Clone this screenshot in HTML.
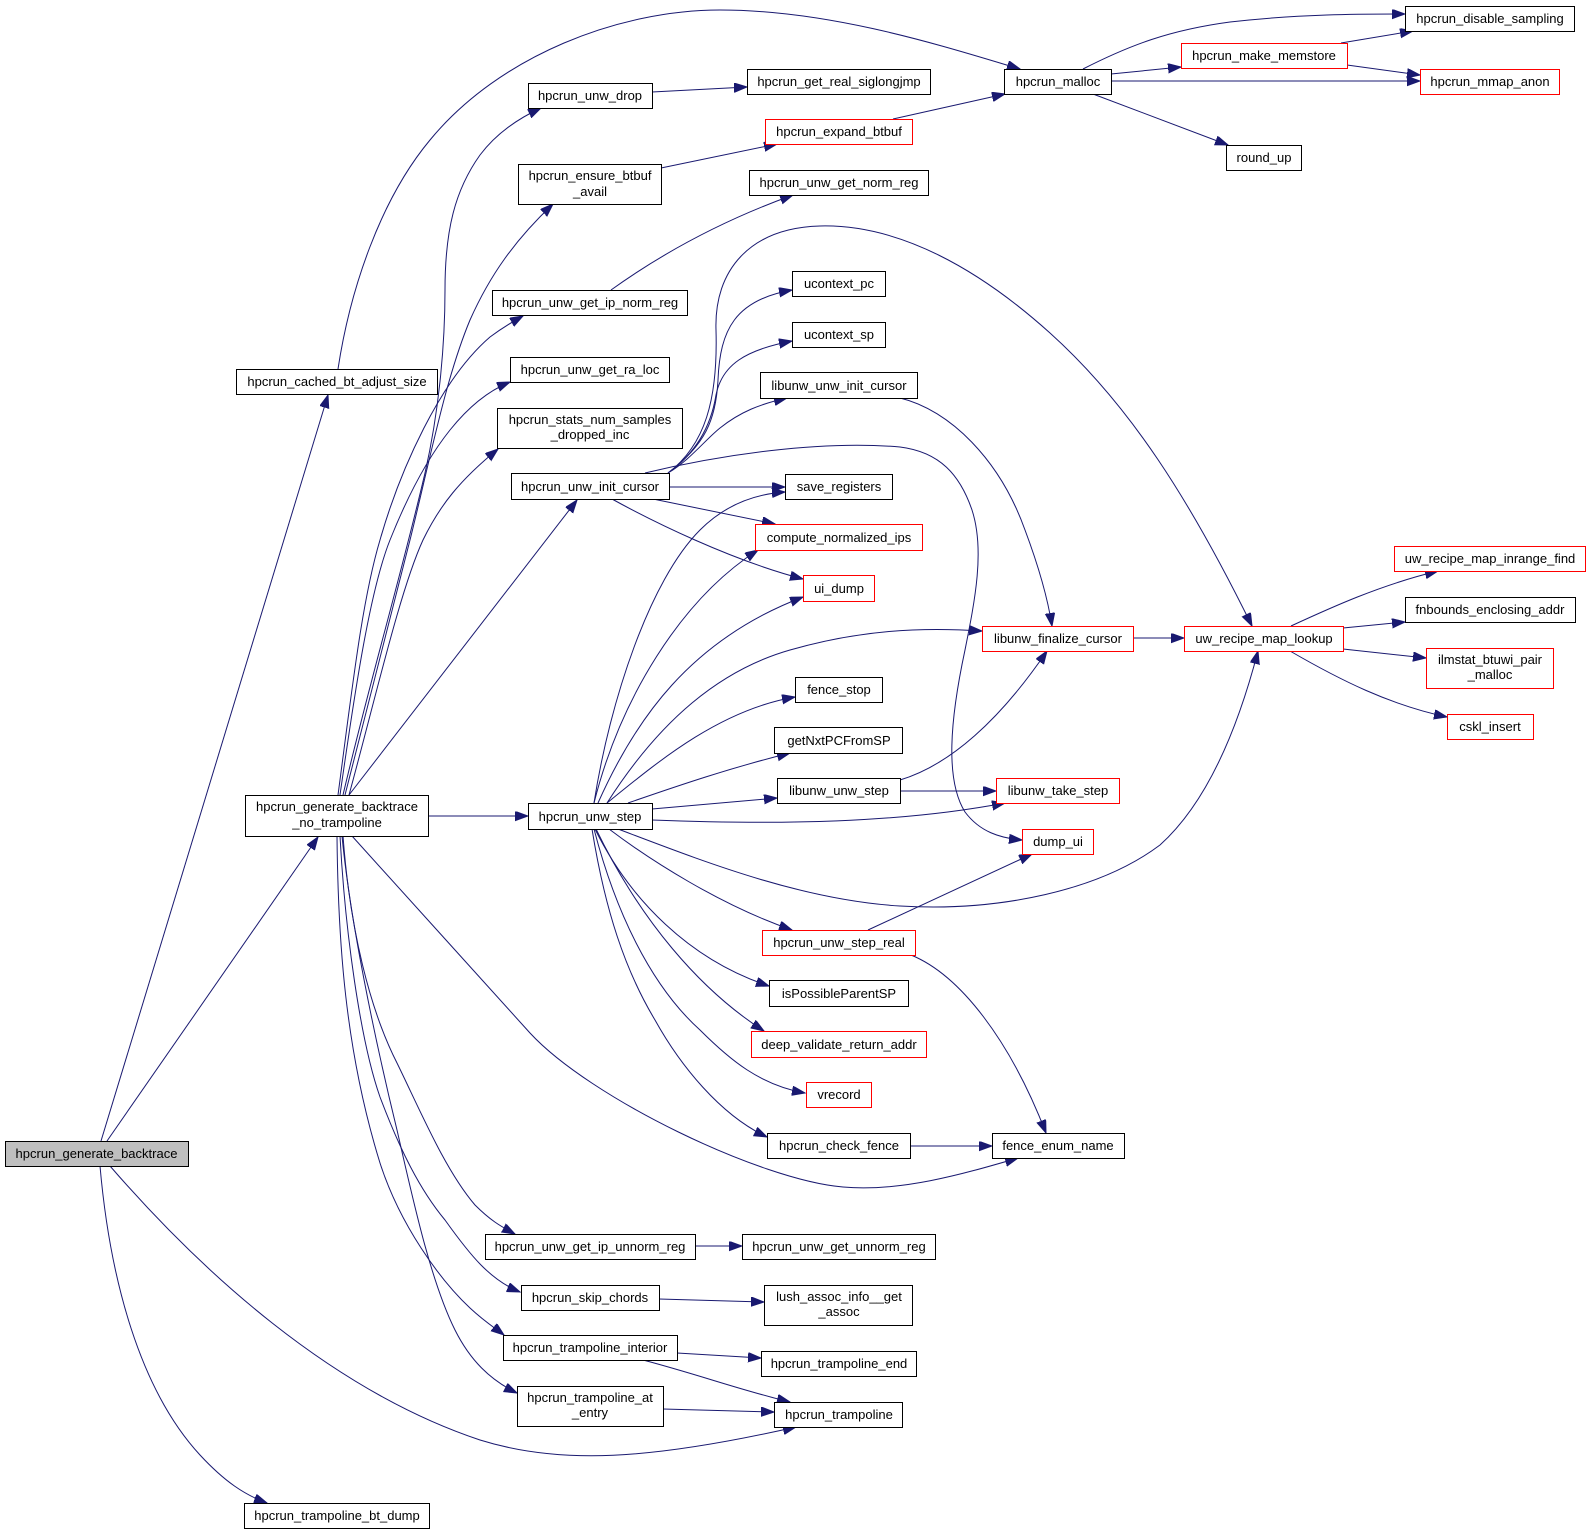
<!DOCTYPE html>
<html><head><meta charset="utf-8"><style>
html,body{margin:0;padding:0;background:#fff;}
svg{display:block;}
text{font-family:"Liberation Sans",Arial,sans-serif;font-size:13px;fill:#000;text-anchor:middle;}
.e{fill:none;stroke:#191970;stroke-width:1;marker-end:url(#a);}
.n{fill:#fff;stroke:#000;stroke-width:1;}
.r{fill:#fff;stroke:#ff0000;stroke-width:1;}
.g{fill:#bfbfbf;stroke:#000;stroke-width:1;}
</style></head><body>
<svg width="1591" height="1535" viewBox="0 0 1591 1535" xmlns="http://www.w3.org/2000/svg">
<defs><marker id="a" markerUnits="userSpaceOnUse" markerWidth="14" markerHeight="11" refX="13" refY="4.7" orient="auto"><path d="M0,0 L13,4.7 L0,9.4 z" fill="#191970" stroke="#191970" stroke-width="1"/></marker></defs>
<rect width="1591" height="1535" fill="#fff"/>

<!-- edges -->
<path class="e" d="M101,1141 L328,395"/>
<path class="e" d="M107,1141 L318,837"/>
<path class="e" d="M100,1166 C110,1280 140,1390 200,1455 C225,1482 245,1495 267,1503"/>
<path class="e" d="M110,1166 C200,1270 330,1390 480,1440 C560,1465 650,1460 796,1427"/>
<path class="e" d="M338,369 C350,290 380,200 430,140 C500,55 620,10 720,10 C830,10 940,45 1020,69"/>

<path class="e" d="M343,795 C370,680 400,580 425,473 C440,407 445,340 445,290 C445,230 455,190 480,155 C495,135 515,120 541,108"/>
<path class="e" d="M345,795 C375,680 395,600 410,540 C430,460 445,380 470,320 C490,275 515,240 553,204"/>
<path class="e" d="M338,795 C352,690 362,600 380,540 C400,470 440,380 490,337 C502,328 512,322 523,316"/>
<path class="e" d="M340,795 C355,690 370,590 390,540 C410,490 430,455 450,430 C470,405 490,390 510,382"/>
<path class="e" d="M349,795 C375,700 400,590 423,540 C440,505 460,480 498,449"/>
<path class="e" d="M349,795 L577,500"/>
<path class="e" d="M428,816 L528,816"/>

<path class="e" d="M343,836 C350,930 370,1010 397,1063 C420,1110 445,1170 475,1205 C490,1220 500,1226 515,1234"/>
<path class="e" d="M340,836 C345,930 360,1040 380,1097 C400,1150 420,1190 445,1220 C470,1255 490,1280 520,1292"/>
<path class="e" d="M337,836 C338,940 345,1050 380,1163 C400,1225 440,1280 470,1308 C485,1322 495,1328 504,1335"/>
<path class="e" d="M342,836 C350,920 375,1040 397,1130 C412,1195 430,1280 455,1330 C470,1360 490,1380 517,1393"/>
<path class="e" d="M352,836 C411,901 471,968 530,1033 C590,1098 760,1180 843,1187 C900,1192 960,1175 1018,1158"/>

<path class="e" d="M668,473 C690,460 705,440 720,428 C740,412 760,404 787,398"/>
<path class="e" d="M668,473 C700,450 712,420 716,395 C722,365 745,350 792,341"/>
<path class="e" d="M668,473 C705,445 716,420 718,380 C720,330 735,300 792,290"/>
<path class="e" d="M668,473 C705,445 718,400 716,330 C714,270 750,228 820,226 C900,224 980,270 1050,333 C1130,405 1190,500 1252,626"/>
<path class="e" d="M645,473 C720,455 820,440 900,447 C940,452 960,475 972,510 C985,550 975,600 965,650 C950,720 945,780 965,812 C980,832 1000,838 1022,840"/>
<path class="e" d="M669,487 L785,487"/>
<path class="e" d="M653,499 L775,524"/>
<path class="e" d="M612,499 C650,520 730,560 803,579"/>

<path class="e" d="M594,803 C610,700 650,580 700,530 C725,505 755,494 785,492"/>
<path class="e" d="M594,803 C620,700 680,600 758,550"/>
<path class="e" d="M598,803 C635,720 690,640 803,597"/>
<path class="e" d="M607,803 C660,720 720,670 790,650 C860,630 920,627 982,631"/>
<path class="e" d="M607,803 C660,760 720,710 795,697"/>
<path class="e" d="M628,803 C680,785 730,768 790,753"/>
<path class="e" d="M652,809 L777,798"/>
<path class="e" d="M652,820 C780,825 900,823 1005,803"/>
<path class="e" d="M618,829 C700,860 800,900 900,906 C1000,912 1100,890 1160,845 C1210,800 1240,720 1258,651"/>
<path class="e" d="M609,829 C650,860 720,905 792,930"/>
<path class="e" d="M595,829 C630,900 690,960 769,986"/>
<path class="e" d="M596,829 C640,920 700,990 764,1031"/>
<path class="e" d="M594,829 C615,910 650,985 700,1030 C730,1060 760,1085 805,1093"/>
<path class="e" d="M592,829 C605,910 625,970 655,1020 C680,1065 720,1115 767,1137"/>

<path class="e" d="M868,930 L1032,854"/>
<path class="e" d="M911,955 C960,975 1010,1040 1046,1133"/>
<path class="e" d="M910,1146 L992,1146"/>
<path class="e" d="M900,791 L996,791"/>
<path class="e" d="M900,780 C950,765 1000,720 1047,651"/>
<path class="e" d="M900,398 C950,410 1000,460 1025,530 C1040,570 1048,600 1052,626"/>
<path class="e" d="M1133,638 L1184,638"/>
<path class="e" d="M1291,626 C1330,608 1380,585 1438,571"/>
<path class="e" d="M1343,628 L1405,622"/>
<path class="e" d="M1343,649 L1426,658"/>
<path class="e" d="M1290,651 C1340,680 1390,705 1447,717"/>

<path class="e" d="M1083,69 C1130,45 1170,30 1230,22 C1300,14 1360,14 1405,14"/>
<path class="e" d="M1111,74 L1181,67"/>
<path class="e" d="M1111,81 L1420,81"/>
<path class="e" d="M1093,94 L1228,145"/>
<path class="e" d="M1341,43 L1413,31"/>
<path class="e" d="M1347,65 L1420,75"/>
<path class="e" d="M893,119 L1005,94"/>
<path class="e" d="M661,168 L777,144"/>
<path class="e" d="M652,92 L747,87"/>
<path class="e" d="M611,290 C650,262 710,225 793,195"/>
<path class="e" d="M695,1246 L742,1246"/>
<path class="e" d="M659,1299 L764,1302"/>
<path class="e" d="M677,1353 L761,1358"/>
<path class="e" d="M643,1360 C700,1375 740,1390 790,1402"/>
<path class="e" d="M663,1409 L774,1412"/>

<!-- nodes -->
<rect class="g" x="5.5" y="1141.5" width="183" height="25"/><text x="96.5" y="1158">hpcrun_generate_backtrace</text>
<rect class="n" x="236.5" y="369.5" width="201" height="25"/><text x="337" y="386">hpcrun_cached_bt_adjust_size</text>
<rect class="n" x="245.5" y="795.5" width="183" height="41"/><text x="337" y="811">hpcrun_generate_backtrace</text><text x="337" y="827">_no_trampoline</text>
<rect class="n" x="244.5" y="1503.5" width="185" height="25"/><text x="337" y="1520">hpcrun_trampoline_bt_dump</text>

<rect class="n" x="1004.5" y="69.5" width="107" height="25"/><text x="1058" y="86">hpcrun_malloc</text>
<rect class="n" x="1405.5" y="6.5" width="169" height="25"/><text x="1490" y="23">hpcrun_disable_sampling</text>
<rect class="r" x="1181.5" y="43.5" width="166" height="25"/><text x="1264" y="60">hpcrun_make_memstore</text>
<rect class="r" x="1420.5" y="69.5" width="139" height="25"/><text x="1490" y="86">hpcrun_mmap_anon</text>
<rect class="n" x="1226.5" y="145.5" width="75" height="25"/><text x="1264" y="162">round_up</text>

<rect class="n" x="528.5" y="83.5" width="124" height="25"/><text x="590" y="100">hpcrun_unw_drop</text>
<rect class="n" x="747.5" y="69.5" width="183" height="25"/><text x="839" y="86">hpcrun_get_real_siglongjmp</text>
<rect class="r" x="765.5" y="119.5" width="147" height="25"/><text x="839" y="136">hpcrun_expand_btbuf</text>
<rect class="n" x="518.5" y="164.5" width="143" height="40"/><text x="590" y="180">hpcrun_ensure_btbuf</text><text x="590" y="196">_avail</text>
<rect class="n" x="749.5" y="170.5" width="179" height="25"/><text x="839" y="187">hpcrun_unw_get_norm_reg</text>
<rect class="n" x="492.5" y="290.5" width="195" height="25"/><text x="590" y="307">hpcrun_unw_get_ip_norm_reg</text>
<rect class="n" x="792.5" y="271.5" width="93" height="25"/><text x="839" y="288">ucontext_pc</text>
<rect class="n" x="792.5" y="322.5" width="93" height="25"/><text x="839" y="339">ucontext_sp</text>
<rect class="n" x="760.5" y="372.5" width="157" height="26"/><text x="839" y="390">libunw_unw_init_cursor</text>
<rect class="n" x="510.5" y="357.5" width="159" height="25"/><text x="590" y="374">hpcrun_unw_get_ra_loc</text>
<rect class="n" x="497.5" y="408.5" width="185" height="40"/><text x="590" y="424">hpcrun_stats_num_samples</text><text x="590" y="439">_dropped_inc</text>
<rect class="n" x="511.5" y="473.5" width="158" height="26"/><text x="590" y="491">hpcrun_unw_init_cursor</text>
<rect class="n" x="785.5" y="474.5" width="107" height="25"/><text x="839" y="491">save_registers</text>
<rect class="r" x="755.5" y="524.5" width="167" height="26"/><text x="839" y="542">compute_normalized_ips</text>
<rect class="r" x="803.5" y="575.5" width="71" height="26"/><text x="839" y="593">ui_dump</text>
<rect class="r" x="982.5" y="626.5" width="151" height="25"/><text x="1058" y="643">libunw_finalize_cursor</text>
<rect class="r" x="1184.5" y="626.5" width="159" height="25"/><text x="1264" y="643">uw_recipe_map_lookup</text>
<rect class="r" x="1394.5" y="546.5" width="191" height="25"/><text x="1490" y="563">uw_recipe_map_inrange_find</text>
<rect class="n" x="1405.5" y="597.5" width="170" height="25"/><text x="1490" y="614">fnbounds_enclosing_addr</text>
<rect class="r" x="1426.5" y="648.5" width="127" height="40"/><text x="1490" y="664">ilmstat_btuwi_pair</text><text x="1490" y="679">_malloc</text>
<rect class="r" x="1447.5" y="714.5" width="86" height="25"/><text x="1490" y="731">cskl_insert</text>
<rect class="n" x="795.5" y="677.5" width="87" height="25"/><text x="839" y="694">fence_stop</text>
<rect class="n" x="774.5" y="727.5" width="128" height="26"/><text x="839" y="745">getNxtPCFromSP</text>
<rect class="n" x="777.5" y="778.5" width="123" height="25"/><text x="839" y="795">libunw_unw_step</text>
<rect class="r" x="996.5" y="778.5" width="123" height="25"/><text x="1058" y="795">libunw_take_step</text>
<rect class="n" x="528.5" y="803.5" width="124" height="26"/><text x="590" y="821">hpcrun_unw_step</text>
<rect class="r" x="1022.5" y="829.5" width="71" height="25"/><text x="1058" y="846">dump_ui</text>
<rect class="r" x="762.5" y="930.5" width="153" height="25"/><text x="839" y="947">hpcrun_unw_step_real</text>
<rect class="n" x="769.5" y="980.5" width="139" height="26"/><text x="839" y="998">isPossibleParentSP</text>
<rect class="r" x="751.5" y="1031.5" width="175" height="26"/><text x="839" y="1049">deep_validate_return_addr</text>
<rect class="r" x="806.5" y="1082.5" width="65" height="25"/><text x="839" y="1099">vrecord</text>
<rect class="n" x="767.5" y="1133.5" width="143" height="25"/><text x="839" y="1150">hpcrun_check_fence</text>
<rect class="n" x="992.5" y="1133.5" width="132" height="25"/><text x="1058" y="1150">fence_enum_name</text>
<rect class="n" x="485.5" y="1234.5" width="210" height="25"/><text x="590" y="1251">hpcrun_unw_get_ip_unnorm_reg</text>
<rect class="n" x="742.5" y="1234.5" width="193" height="25"/><text x="839" y="1251">hpcrun_unw_get_unnorm_reg</text>
<rect class="n" x="521.5" y="1285.5" width="138" height="25"/><text x="590" y="1302">hpcrun_skip_chords</text>
<rect class="n" x="764.5" y="1285.5" width="148" height="40"/><text x="839" y="1301">lush_assoc_info__get</text><text x="839" y="1316">_assoc</text>
<rect class="n" x="503.5" y="1335.5" width="174" height="25"/><text x="590" y="1352">hpcrun_trampoline_interior</text>
<rect class="n" x="761.5" y="1351.5" width="155" height="25"/><text x="839" y="1368">hpcrun_trampoline_end</text>
<rect class="n" x="517.5" y="1386.5" width="146" height="40"/><text x="590" y="1402">hpcrun_trampoline_at</text><text x="590" y="1417">_entry</text>
<rect class="n" x="774.5" y="1402.5" width="128" height="25"/><text x="839" y="1419">hpcrun_trampoline</text>
</svg>
</body></html>
